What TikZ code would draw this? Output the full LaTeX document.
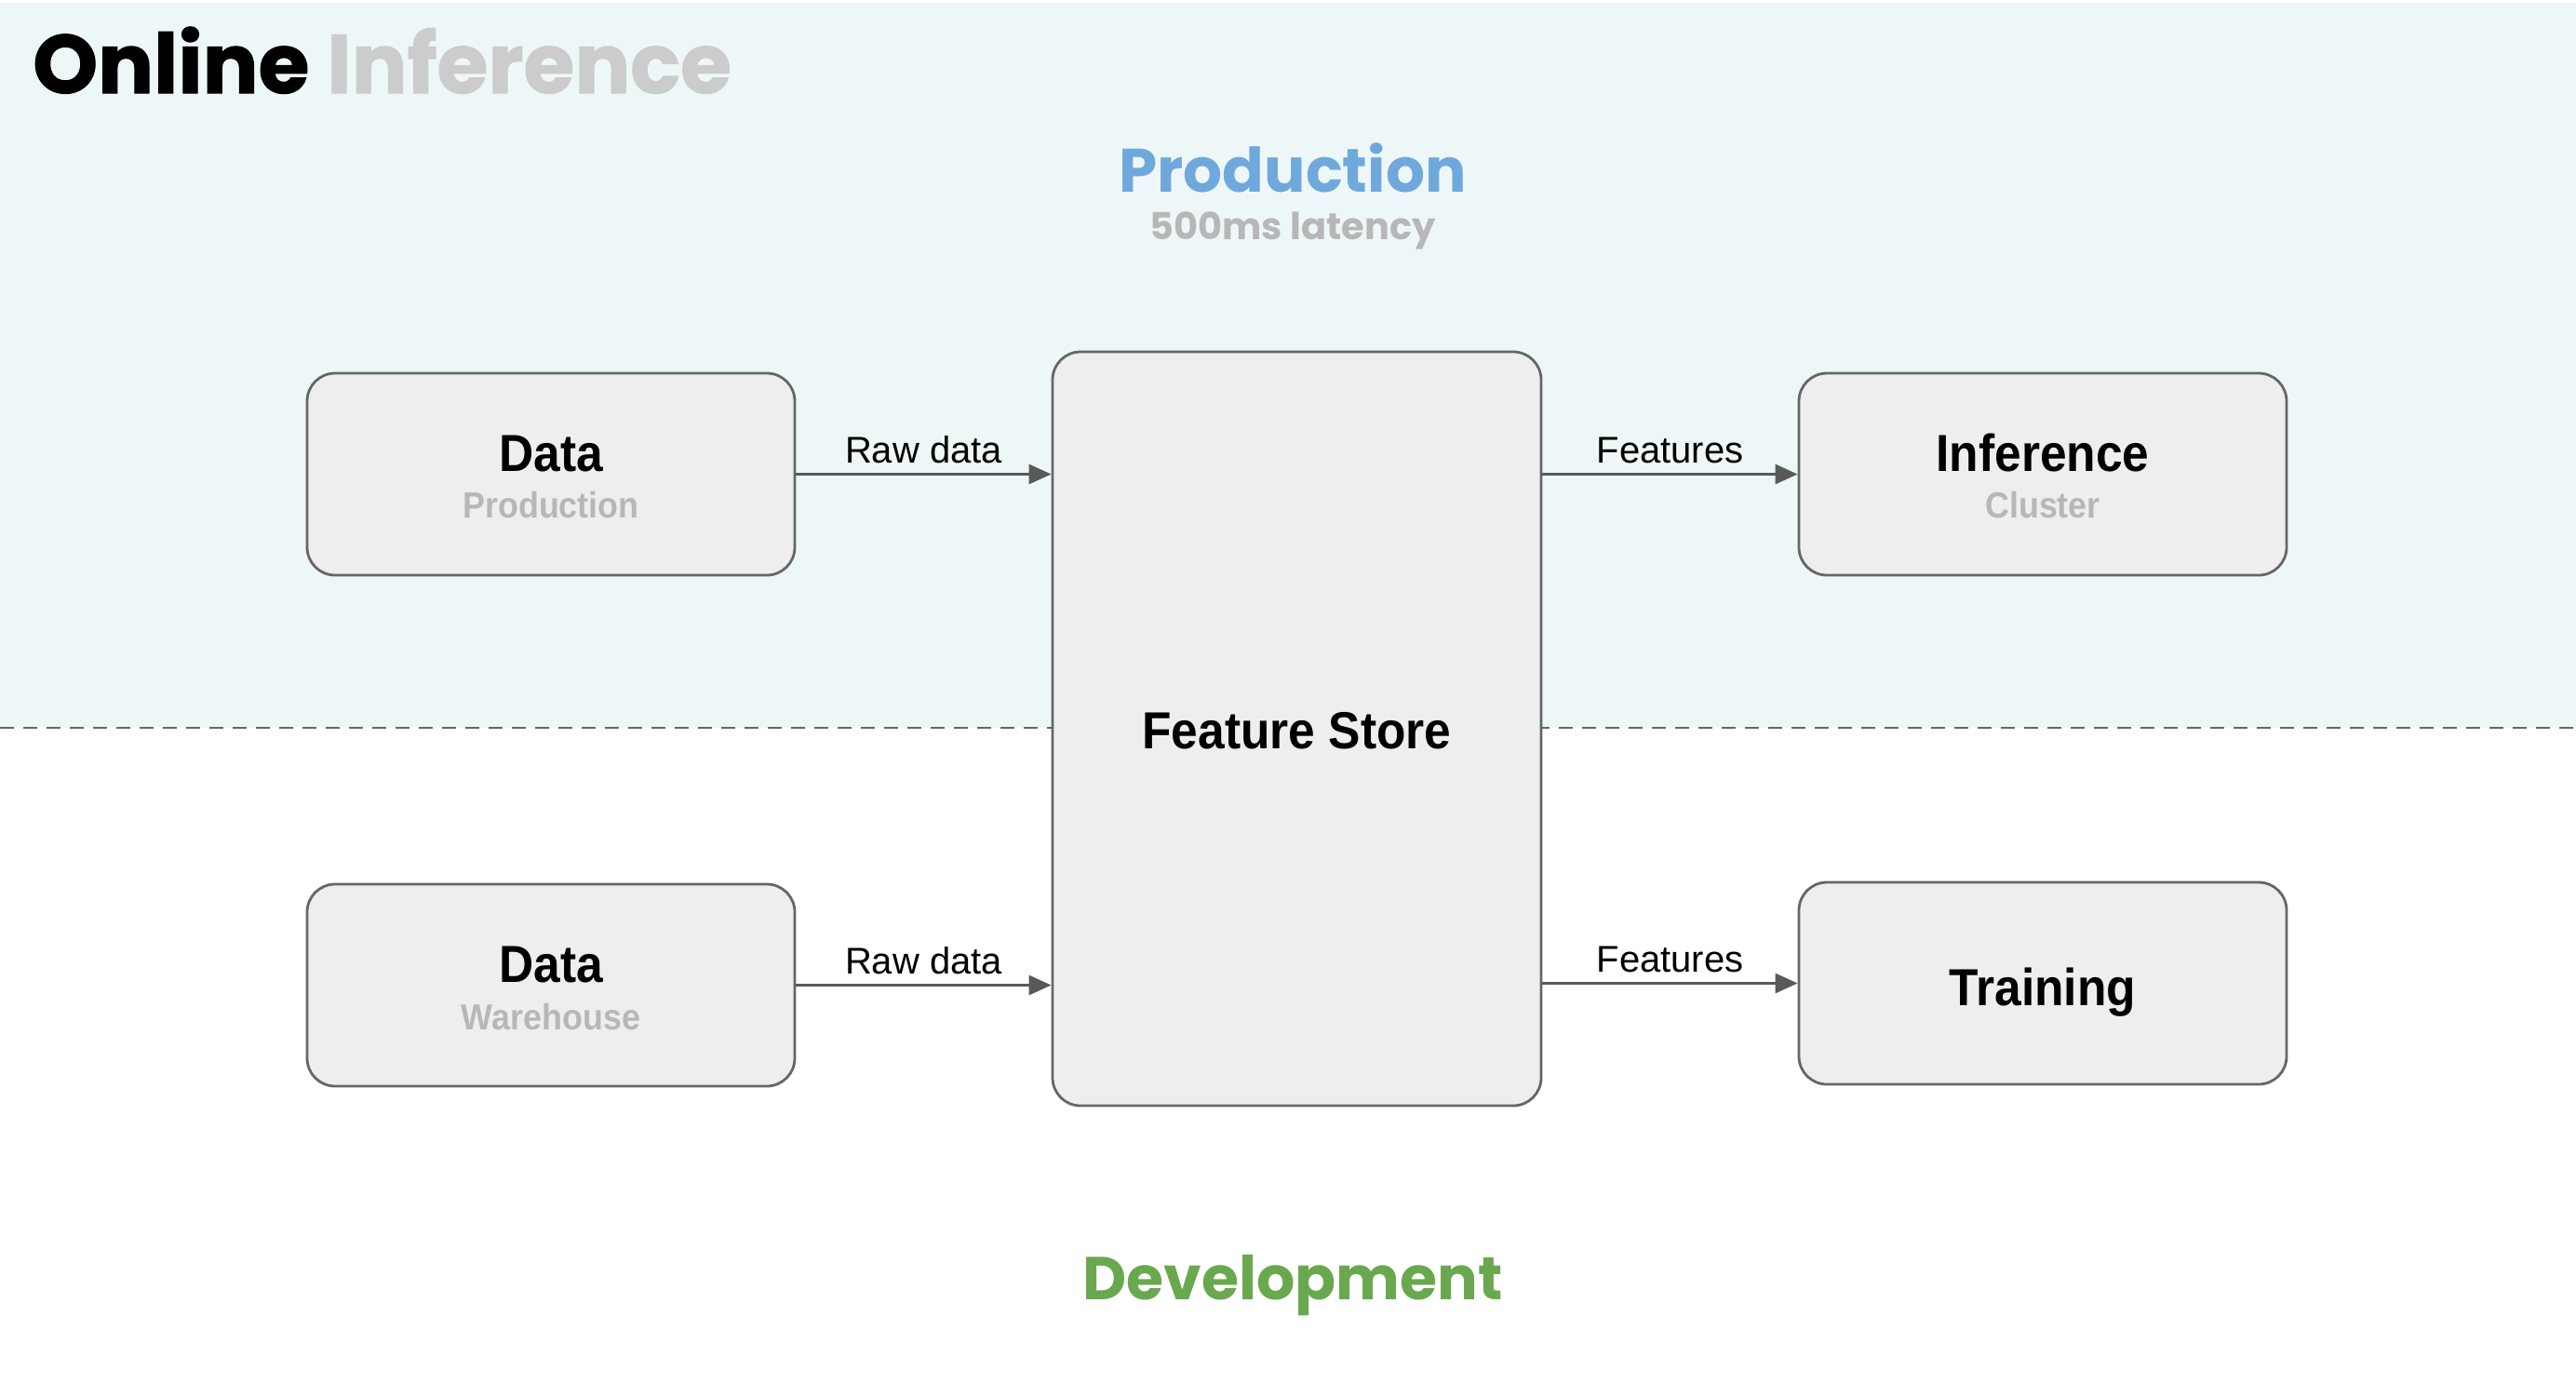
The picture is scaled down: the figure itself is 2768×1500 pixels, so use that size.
\documentclass[tikz,border=0pt]{standalone}
\usepackage{fontspec}
\setmainfont{Liberation Sans}
\newfontfamily\poppins{Poppins}
\newfontfamily\poppinsheavy[BoldFeatures={FakeBold=1.2}]{Poppins}
\newfontfamily\robo[FakeStretch=0.92]{Liberation Sans}
\usetikzlibrary{arrows.meta,calc}
\definecolor{prodbg}{HTML}{EEF7F8}
\definecolor{boxfill}{HTML}{EEEEEE}
\definecolor{boxline}{HTML}{666666}
\definecolor{arrowc}{HTML}{595959}
\definecolor{subgrey}{HTML}{B7B7B7}
\definecolor{titlegrey}{HTML}{CCCCCC}
\definecolor{prodblue}{HTML}{6FA8DC}
\definecolor{devgreen}{HTML}{6AA84F}
\tikzset{
  box/.style={draw=boxline, fill=boxfill, line width=2.8pt, rounded corners=30pt, inner sep=0pt},
  boxtitle/.style={anchor=base, inner sep=0pt, font=\robo\bfseries\fontsize{56}{60}\selectfont, text=black},
  boxsub/.style={anchor=base, inner sep=0pt, font=\robo\bfseries\fontsize{39}{42}\selectfont, text=subgrey},
  flow/.style={draw=arrowc, line width=3pt, -{Triangle[length=24pt,width=21pt]}},
  flowlabel/.style={anchor=base, inner sep=0pt, yshift=12pt, font=\fontsize{40}{42}\selectfont, text=black},
  divider/.style={draw=boxline, line width=2.8pt, dash pattern=on 15pt off 10pt}
}
\begin{document}
\begin{tikzpicture}[x=1pt,y=-1pt]
\useasboundingbox (0,0) rectangle (2768,1500);
\fill[white] (0,0) rectangle (2768,1500);
\fill[prodbg] (0,3) rectangle (2768,782);
\coordinate (divL) at (0,782);
\coordinate (divR) at (2768,782);
\draw[divider] (divL) -- (divR);

% title
\node[anchor=base west, inner sep=0pt, font=\poppinsheavy\bfseries\fontsize{89}{92}\selectfont] (title) at (35,100) {Online \textcolor{titlegrey}{Inference}};

% zone labels
\node[anchor=base, inner sep=0pt, font=\poppins\bfseries\fontsize{66}{70}\selectfont, text=prodblue] (prodlbl) at (1389,206) {Production};
\node[anchor=base, inner sep=0pt, font=\poppins\bfseries\fontsize{40}{42}\selectfont, text=subgrey] (latlbl) at (1389,257) {500ms latency};
\node[anchor=base, inner sep=0pt, font=\poppins\bfseries\fontsize{65}{70}\selectfont, text=devgreen] (devlbl) at (1389,1396) {Development};

% boxes
\node[box, minimum width=524pt, minimum height=217pt] (dp) at (592,509.5) {};
\node[box, minimum width=524pt, minimum height=217pt] (dw) at (592,1058.5) {};
\node[box, minimum width=525pt, minimum height=810pt] (fs) at (1393.5,783) {};
\node[box, minimum width=524pt, minimum height=217pt] (inf) at (2195,509.5) {};
\node[box, minimum width=524pt, minimum height=217pt] (tr) at (2195,1056.5) {};

% box texts
\node[boxtitle] (dpt) at ([yshift=3pt]dp.center) {Data};
\node[boxsub] (dps) at ([yshift=-47pt]dp.center) {Production};
\node[boxtitle] (dwt) at ([yshift=3pt]dw.center) {Data};
\node[boxsub] (dws) at ([yshift=-48pt]dw.center) {Warehouse};
\node[boxtitle] (inft) at ([yshift=3pt]inf.center) {Inference};
\node[boxsub] (infs) at ([yshift=-47pt]inf.center) {Cluster};
\node[boxtitle] (trt) at ([yshift=-24pt]tr.center) {Training};
\node[boxtitle] (fst) at ([yshift=-21pt]fs.center) {Feature Store};

% connectors
\coordinate (fsa) at (fs.west |- dp.east);
\coordinate (fsb) at (fs.west |- dw.east);
\coordinate (fsc) at (fs.east |- inf.west);
\coordinate (fsd) at (fs.east |- tr.west);
\draw[flow] (dp.east) -- node[flowlabel] (l1) {Raw data} (fsa);
\draw[flow] (dw.east) -- node[flowlabel] (l2) {Raw data} (fsb);
\draw[flow] (fsc) -- node[flowlabel] (l3) {Features} (inf.west);
\draw[flow] (fsd) -- node[flowlabel] (l4) {Features} (tr.west);
\end{tikzpicture}
\end{document}
